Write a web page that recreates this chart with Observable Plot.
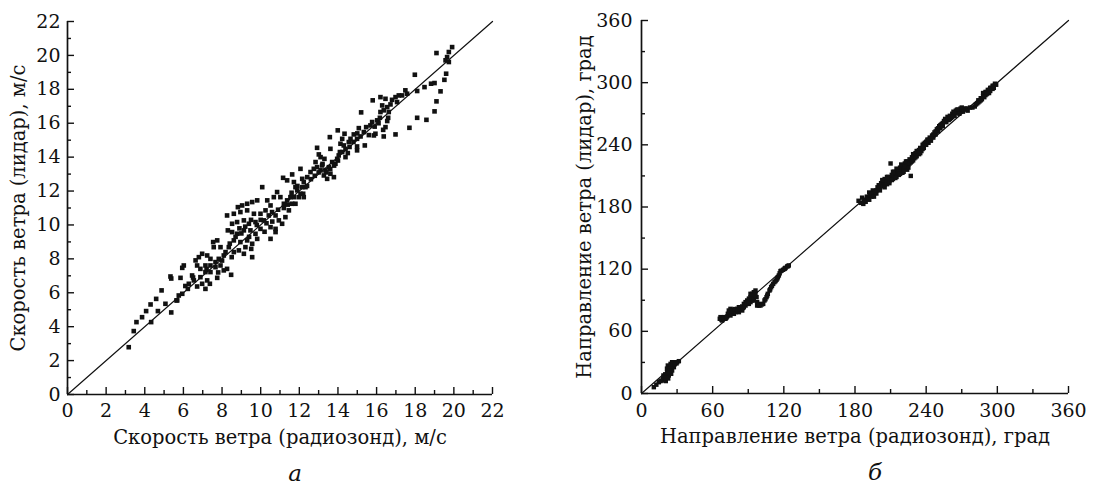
<!DOCTYPE html>
<html><head><meta charset="utf-8">
<script src="https://cdn.jsdelivr.net/npm/d3@7"></script>
<script src="https://cdn.jsdelivr.net/npm/@observablehq/plot@0.6"></script>
<style>
body{margin:0;background:#fff;}
#wrap{display:flex;width:1098px;height:485px;overflow:hidden;}
</style></head><body><div id="wrap"></div>
<script>
// ---- Panel a: wind speed, m/s ----
const speedTicks = [0,2,4,6,8,10,12,14,16,18,20,22];
const speedMinor = [1,3,5,7,9,11,13,15,17,19,21];
const speedDiag = [0,22];
const speedXTitle = "Скорость ветра (радиозонд), м/с";
const speedYTitle = "Скорость ветра (лидар), м/с";
// [radiosonde, lidar]
const speedPoints = [
[8.82,11.05],[9.04,11.15],[9.30,11.25],[9.56,11.35],[9.82,11.45],[8.26,10.56],[8.61,10.66],[8.95,10.76],[9.30,10.86],[9.65,10.66],
[9.99,10.66],[8.52,10.07],[8.78,10.17],[9.13,10.27],[9.39,10.07],[9.73,10.17],[9.99,9.77],[10.77,9.58],[10.51,9.18],[8.30,9.68],
[8.52,9.58],[8.78,9.48],[9.13,9.68],[9.47,9.68],[9.73,9.48],[9.82,9.18],[9.56,8.89],[9.30,9.09],[8.61,9.09],[8.95,8.99],
[9.21,8.69],[9.51,8.59],[9.56,8.10],[9.13,8.30],[8.87,8.50],[8.61,8.40],[8.35,8.69],[8.18,8.40],[7.54,8.99],[7.75,9.09],
[7.57,8.69],[7.92,8.69],[8.09,8.20],[7.83,8.00],[7.66,7.81],[7.40,8.00],[7.23,8.20],[6.97,8.30],[6.80,8.10],[6.63,7.91],
[6.71,7.61],[6.88,7.41],[7.14,7.61],[7.40,7.61],[7.66,7.51],[7.92,7.61],[8.09,7.32],[8.26,7.41],[8.47,7.06],[7.75,6.88],
[7.40,7.22],[7.14,7.22],[6.88,6.92],[6.97,6.53],[7.23,6.73],[7.37,6.53],[7.14,6.23],[6.71,6.37],[6.54,6.73],[6.28,6.53],
[6.23,6.23],[5.94,5.94],[5.76,5.84],[5.64,5.55],[6.02,7.61],[5.94,7.47],[5.85,6.88],[5.33,6.96],[5.37,6.84],[6.45,7.02],
[4.87,6.14],[4.59,5.64],[4.30,5.31],[4.07,4.92],[3.86,4.56],[3.57,4.27],[3.43,3.74],[3.17,2.79],[4.33,4.27],[4.68,4.92],
[5.07,5.35],[5.37,4.84],[5.68,5.55],
[19.91,20.49],[19.10,20.14],[19.74,20.20],[19.65,19.90],[19.57,19.71],[19.74,19.61],[19.60,18.92],[19.51,18.56],[19.31,17.88],[19.10,17.29],
[19.00,16.70],[18.58,16.20],[18.10,16.32],[17.70,15.73],[16.98,15.34],[17.98,18.86],[18.48,18.13],[18.82,18.33],[19.00,18.37],[18.10,17.90],
[17.49,17.94],[17.58,17.74],[17.32,17.64],[17.15,17.64],[16.98,17.54],[17.06,17.25],[16.80,17.38],[16.72,17.11],[16.55,16.95],[16.46,17.44],
[16.20,17.54],[15.80,17.35],[16.29,17.05],[16.37,16.76],[16.20,16.66],[16.17,16.32],[16.03,16.17],[15.77,16.07],[15.68,15.87],[16.63,16.66],
[16.60,16.32],[16.55,16.13],[16.46,15.77],[16.34,15.61],[16.37,15.22],[15.86,15.28],[15.94,15.38],[15.20,16.64],[15.46,15.77],[15.08,15.71],
[15.34,15.48],[15.17,15.22],[14.99,15.08],[14.82,15.34],[14.65,15.08],[14.56,14.89],[14.34,15.38],[14.22,15.08],[14.13,14.79],[14.30,14.69],
[14.39,14.49],[14.51,14.24],[14.39,14.00],[14.22,14.30],[13.99,15.58],[13.58,15.18],[13.61,14.49],[14.99,14.40],[15.39,14.69],[14.99,14.63],
[14.04,14.10],[13.96,13.90],[13.87,13.61],[13.70,13.71],[13.53,13.41],[13.61,13.02],[13.35,13.22],[13.18,13.51],[13.10,14.00],[12.92,14.55],
[13.01,14.16],[12.84,13.71],[12.92,13.41],[13.79,12.82],[13.44,12.72],[13.27,12.92],[13.10,13.22],[12.75,13.31],[12.58,13.12],[12.41,12.82],
[12.23,12.53],[12.15,12.23],[12.20,11.84],[12.06,13.31],[12.15,12.72],[12.32,12.23],[11.63,12.98],[11.16,12.78],[11.37,12.63],[11.72,12.53],
[11.80,12.23],[11.89,12.04],[11.72,11.64],[11.63,11.25],[11.46,10.86],[11.28,10.46],[11.11,10.07],[10.94,10.27],[10.77,10.56],[10.68,11.64],
[10.85,11.94],[11.02,11.64],[11.20,11.25],[11.37,11.45],[11.54,11.64],[11.80,11.25],[11.97,11.64],[12.23,11.64],[12.06,11.84],[10.08,12.23],
[10.34,11.45],[10.51,11.15],[10.25,10.86],[10.42,10.56],[10.59,10.76],[10.16,10.27],[10.77,9.77],[10.51,9.87],
[8.4,8.9],[8.7,9.3],[9.0,9.5],[9.2,9.9],[9.5,10.3],[9.8,10.0],[10.0,10.3],[10.2,9.6],[10.3,10.1],[9.4,9.3],
[8.9,9.8],[8.5,8.1],[8.0,7.9],[7.8,7.2],[7.2,7.4],[6.5,6.9],[6.1,6.4],[10.6,10.2],[10.9,10.9],[11.2,11.0],
[11.4,11.2],[11.6,11.9],[11.9,12.3],[12.4,12.3],[12.6,12.7],[12.8,12.9],[13.0,13.1],[13.2,13.6],[13.4,13.1],[13.6,13.3],
[13.8,13.5],[14.0,13.8],[14.1,14.3],[13.3,13.9],[14.6,14.6],[14.8,14.9],[15.0,15.4],[15.6,15.3],[15.9,15.8],[16.1,16.0]
];

// ---- Panel б: wind direction, degrees ----
const dirTicks = [0,60,120,180,240,300,360];
const dirMinor = [30,90,150,210,270,330];
const dirDiag = [0,360];
const dirXTitle = "Направление ветра (радиозонд), град";
const dirYTitle = "Направление ветра (лидар), град";
const dirPoints = [
[10.4,6.1],[14.6,10.9],[18.3,14.2],[18.5,17.4],[21.1,15.8],[21.6,20.6],[23.0,23.8],[22.2,27.0],[23.9,25.4],[24.5,28.6],
[25.8,30.2],[27.3,29.3],[28.7,30.2],[30.1,30.2],[31.5,31.2],[25.0,19.0],[23.0,17.4],[19.4,13.2],[25.8,22.2],[27.3,25.4],
[20.5,12.0],[22.5,14.5],[24.0,21.0],[26.5,27.5],[29.5,29.0],[20.0,18.5],[17.0,12.5],[21.5,24.0],
[12.5,8.5],[16.0,12.0],[19.0,16.0],[20.5,15.0],[22.0,19.5],[23.5,22.5],[24.8,26.5],[26.0,28.5],[28.0,28.2],[23.2,20.5],
[66.0,72.1],[68.0,70.5],[66.6,73.7],[69.4,73.7],[70.8,72.1],[72.8,76.9],[73.6,80.1],[75.0,81.7],[76.4,78.5],[77.9,80.1],
[79.3,80.8],[80.7,81.7],[82.1,83.3],[83.5,81.7],[84.9,84.0],[86.3,86.5],[87.7,88.2],[89.1,89.8],[90.5,91.4],[91.9,93.0],
[93.3,96.2],[94.7,97.8],[96.1,96.9],[97.0,93.0],[93.3,89.8],[90.5,86.5],[87.7,84.9],[84.9,80.1],[82.1,78.5],[77.9,76.9],
[75.0,75.3],[72.2,74.3],[97.5,84.9],[100.3,84.9],[102.6,86.5],[103.7,89.8],[105.4,93.0],[106.5,96.2],[107.9,99.4],[109.3,102.6],
[111.0,105.8],[112.1,107.5],[113.8,109.7],[115.0,112.3],[115.8,113.9],[117.2,118.1],[119.4,119.4],[120.6,120.3],[121.4,121.3],[122.8,122.6],
[124.2,123.6],[91.9,96.2],[96.1,99.4],[94.7,93.0],[89.7,88.2],[79.3,78.5],[80.7,80.1],[83.5,83.3],[86.3,83.3],[89.1,86.5],
[91.9,88.2],[94.7,89.8],[97.5,88.2],[98.9,84.9],[73.6,76.9],[76.4,80.8],
[67.5,71.0],[69.0,72.5],[71.5,73.0],[74.0,78.0],[76.0,79.5],[78.5,81.5],[81.0,80.0],[82.5,81.0],[85.5,82.5],[87.0,86.0],
[88.5,87.0],[90.0,88.5],[92.5,91.0],[95.5,94.5],[93.0,94.5],[91.0,91.5],[99.0,86.5],[101.5,86.0],[104.5,91.0],[106.0,94.5],
[108.5,100.5],[110.0,104.0],[113.0,108.5],[114.5,111.0],[118.0,118.5],[121.0,120.8],[123.5,123.0],[116.5,116.0],
[183,186],[185,184],[186,189],[188,187],[190,190],[191,188],[192,194],[193,191],[194,190],[195,196],
[196,193],[197,195],[198,193],[199,199],[200,197],[200,201],[201,199],[202,203],[203,200],[204,205],
[205,202],[205,207],[206,204],[207,202],[208,209],[208,206],[209,203],[210,208],[210,222],[211,211],
[212,207],[213,210],[213,214],[214,212],[215,209],[216,216],[216,213],[217,211],[218,218],[219,215],
[220,213],[220,220],[221,217],[222,222],[223,219],[224,216],[224,224],[225,221],[226,226],[227,210],
[227,223],[228,228],[229,225],[230,230],[230,227],[231,232],[232,229],[233,234],[234,231],[235,237],
[236,234],[237,240],[238,237],[239,242],[240,240],[241,245],[242,242],[243,247],[244,244],[245,249],
[246,247],[247,252],[248,250],[249,255],[250,253],[251,258],[252,256],[253,260],[254,261],[255,263],
[256,265],[257,262],[258,267],[259,264],[260,268],[261,266],[262,270],[263,272],[264,268],[265,273],
[266,271],[267,274],[268,272],[269,275],[270,273],[271,272],[272,274],[273,275],[274,275],[275,273],
[277,276],[279,276],[281,277],[283,280],[284,283],[285,282],[286,285],[287,284],[288,287],[289,289],
[290,288],[291,291],[292,290],[293,293],[294,292],[295,295],[296,294],[297,297],[298,299],[299,298],
[187,183],[189,185],[192,187],[194,193],[196,190],[198,196],[201,196],[203,206],[205,199],[207,209],
[209,205],[211,206],[212,214],[214,208],[215,217],[217,214],[218,212],[219,221],[221,214],[222,219],
[223,224],[225,218],[226,222],[228,224],[229,231],[231,228],[232,234],[234,235],[235,232],[237,236],
[238,241],[240,243],[242,245],[244,246],[246,250],[248,253],[250,256],[252,259],[254,258],[256,262],
[258,264],[260,265],[262,267],[264,271],[266,274],[268,270],[270,276],[286,283],[288,290],[290,291],
[292,293],[294,295],[296,297],[297,295],[293,290],[291,289],[289,286],[284,281],[282,279]
];

const FONT = "'DejaVu Serif', serif";

function panel(o) {
  const H = 485;
  const fw = o.width - o.mL - o.mR, fh = H - o.mT - o.mB;
  return Plot.plot({
    width: o.width, height: H,
    marginLeft: o.mL, marginRight: o.mR, marginTop: o.mT, marginBottom: o.mB,
    x: {domain: o.domain}, y: {domain: o.domain},
    style: {fontFamily: FONT, fontSize: "19px", color: "#111", background: "white", overflow: "visible"},
    marks: [
      Plot.axisX(o.ticks, {tickSize: 0, tickPadding: o.xPad, fontSize: 19, label: null}),
      Plot.axisY(o.ticks, {tickSize: 0, tickPadding: o.yPad, fontSize: 19, label: null}),
      Plot.tickX(o.ticks, {x: d => d, insetTop: fh - 7, stroke: "#111", strokeWidth: 1.4}),
      Plot.tickX(o.minor, {x: d => d, insetTop: fh - 4, stroke: "#111", strokeWidth: 1.4}),
      Plot.tickY(o.ticks, {y: d => d, insetRight: fw - 7, stroke: "#111", strokeWidth: 1.4}),
      Plot.tickY(o.minor, {y: d => d, insetRight: fw - 4, stroke: "#111", strokeWidth: 1.4}),
      Plot.ruleX([o.domain[0]], {stroke: "#111", strokeWidth: 1.7}),
      Plot.ruleY([o.domain[0]], {stroke: "#111", strokeWidth: 1.7}),
      Plot.line(o.diag, {x: d => d, y: d => d, stroke: "#111", strokeWidth: 1.2}),
      Plot.dot(o.points, {x: d => d[0], y: d => d[1], symbol: "square", r: o.r, fill: "#111", stroke: null}),
      Plot.text([o.xTitle], {text: d => d, frameAnchor: "bottom", textAnchor: "middle", lineAnchor: "middle", dy: 43, fontSize: 19.5, fill: "#111"}),
      Plot.text([o.yTitle], {text: d => d, frameAnchor: "left", textAnchor: "middle", lineAnchor: "middle", rotate: -90, dx: o.yTitleDx, fontSize: 19.5, fill: "#111"}),
      Plot.text([o.caption], {text: d => d, frameAnchor: "bottom", textAnchor: "middle", lineAnchor: "middle", dy: 79, dx: o.capDx, fontSize: 23, fontStyle: "italic", fill: "#111"})
    ]
  });
}

const wrap = document.getElementById("wrap");
wrap.append(panel({
  points: speedPoints, ticks: speedTicks, minor: speedMinor, domain: [0, 22], diag: speedDiag,
  xTitle: speedXTitle, yTitle: speedYTitle, caption: "а",
  width: 549, mL: 67, mR: 57, mT: 21, mB: 91, r: 2.6, xPad: 9, yPad: 7, yTitleDx: -49, capDx: 15
}));
wrap.append(panel({
  points: dirPoints, ticks: dirTicks, minor: dirMinor, domain: [0, 360], diag: dirDiag,
  xTitle: dirXTitle, yTitle: dirYTitle, caption: "б",
  width: 549, mL: 92, mR: 30, mT: 20, mB: 92, r: 2.5, xPad: 10, yPad: 9, yTitleDx: -57, capDx: 20
}));
</script></body></html>
